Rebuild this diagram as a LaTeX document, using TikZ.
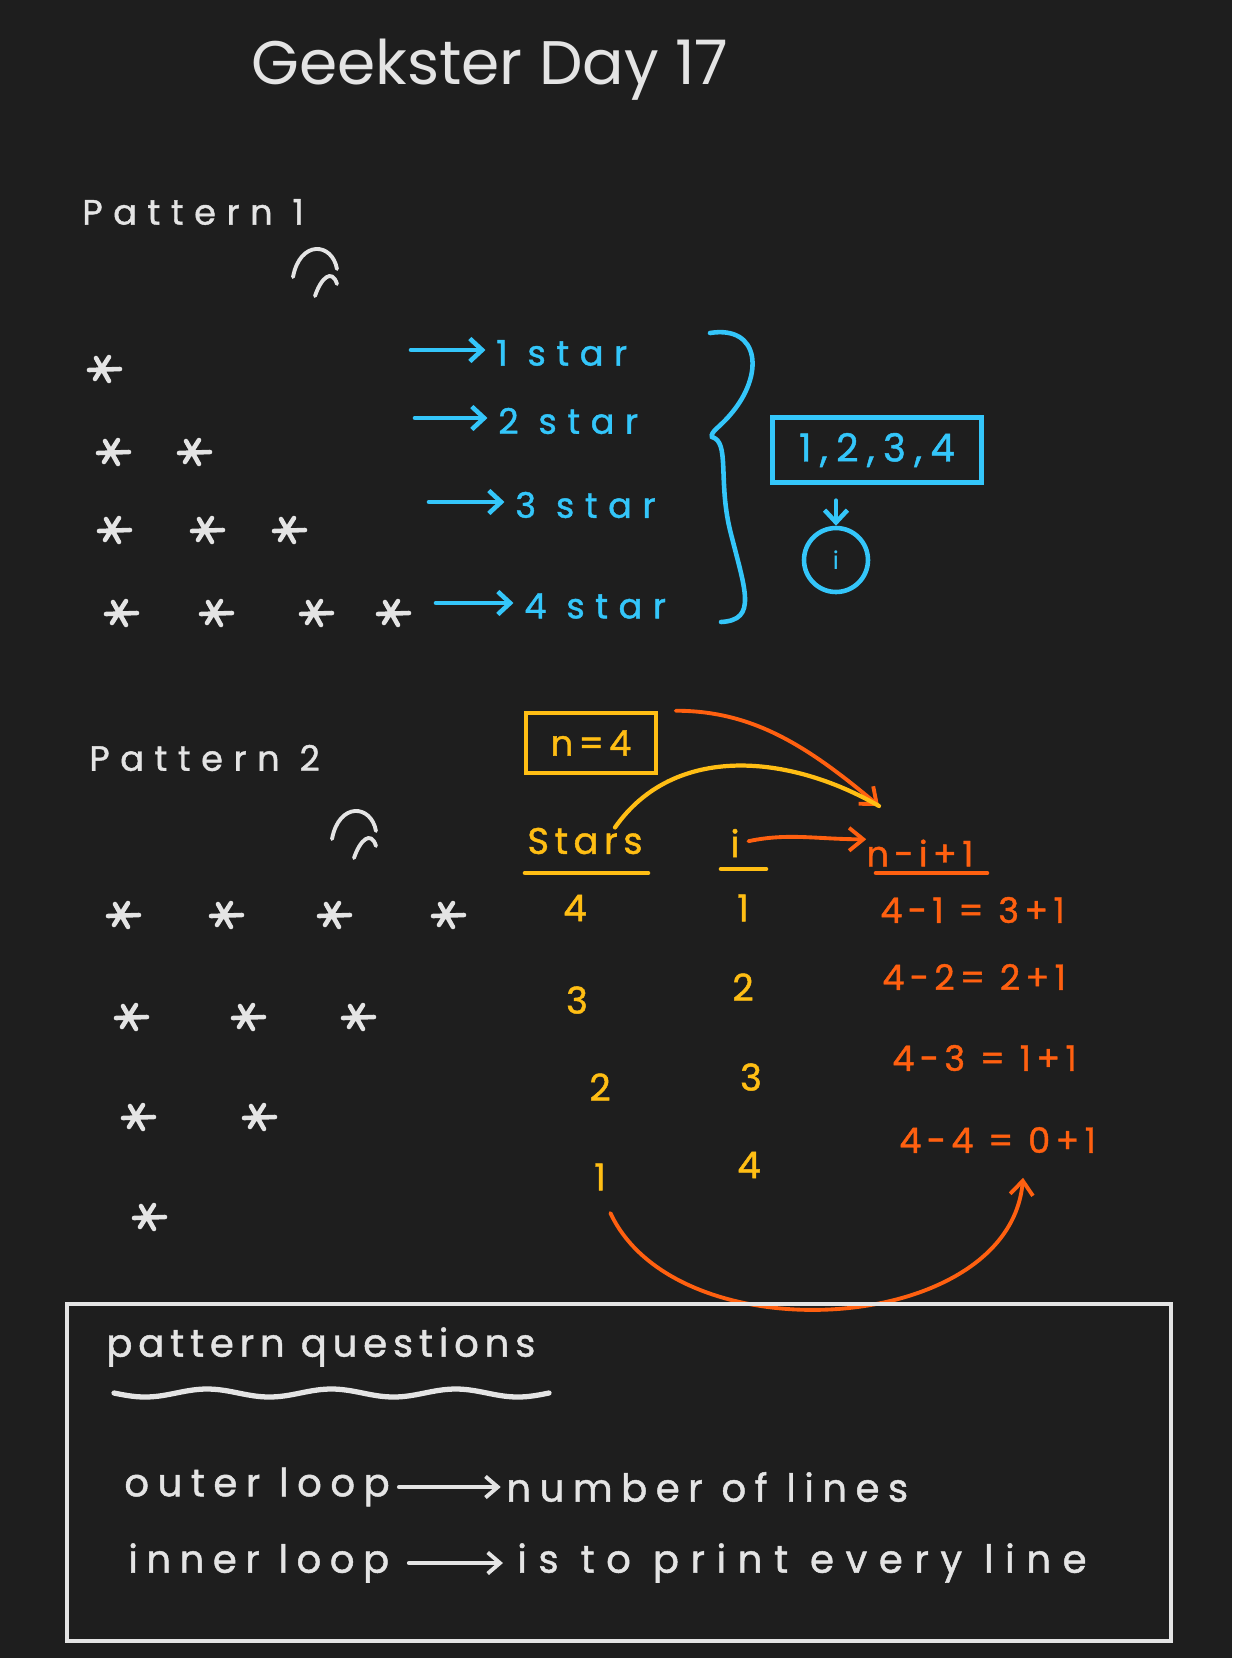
\documentclass[tikz,border=0pt]{standalone}
\usepackage{fontspec}
\setmainfont{Poppins}
\newfontfamily\handfont[LetterSpace=15, FakeBold=1.2]{Poppins}
\newfontfamily\widehand[LetterSpace=22, FakeBold=1.2]{Poppins}
\newfontfamily\widerhand[LetterSpace=30, FakeBold=1.2]{Poppins}
\usepackage{tikz}
\usetikzlibrary{positioning, arrows.meta}
\definecolor{boardbg}{RGB}{30,30,30}
\definecolor{chalk}  {RGB}{228,228,228}
\definecolor{skyblue}{RGB}{52,198,250}
\definecolor{amber}  {RGB}{255,190,20}
\definecolor{flame}  {RGB}{255,96,16}
\tikzset{
  % handwritten labels
  chalktext/.style={text=chalk, inner sep=0pt, font=\widerhand\fontsize{20}{24}\selectfont},
  notetext/.style={text=chalk, inner sep=0pt, font=\widehand\fontsize{22}{26}\selectfont},
  bluetext/.style={text=skyblue, inner sep=0pt, font=\widerhand\fontsize{20}{24}\selectfont},
  ambertext/.style={text=amber, inner sep=0pt, font=\handfont\fontsize{21}{25}\selectfont},
  flametext/.style={text=flame, inner sep=0pt, font=\handfont\fontsize{20}{24}\selectfont},
  % boxes
  bluebox/.style={draw=skyblue, line width=2.6pt, minimum width=4.18cm, minimum height=1.3cm,
    text=skyblue, font=\widehand\fontsize{22}{26}\selectfont},
  bluecirc/.style={circle, draw=skyblue, line width=2.6pt, minimum size=1.28cm,
    text=skyblue, font=\fontsize{14}{16}\selectfont},
  amberbox/.style={draw=amber, line width=2.6pt, minimum width=2.6cm, minimum height=1.2cm,
    text=amber, font=\handfont\fontsize{20}{24}\selectfont},
  % strokes and arrows
  chalkline/.style={draw=chalk, line width=2.2pt, line cap=round},
  bluearr/.style={-{Straight Barb[length=7pt, width=13pt]}, draw=skyblue, line width=2.6pt, line cap=round},
  flamearr/.style={-{Straight Barb[length=8pt, width=13pt]}, draw=flame, line width=2.2pt, line cap=round},
  chalkarr/.style={-{Straight Barb[length=7pt, width=12pt]}, chalkline},
  astmark/.pic={\draw[chalkline, line width=2.6pt] (-14,1) -- (17,0) (-7,-11) -- (6,12) (-8,10) -- (6,-12);},
  hatmark/.pic={\draw[chalkline] (-25,15) .. controls (-18,-22) and (14,-20) .. (19,7)
    (-3,34) .. controls (3,16) and (14,6) .. (19,22);},
}

\begin{document}
\begin{tikzpicture}[x=0.02cm, y=-0.02cm]
  \fill[boardbg] (0,0) rectangle (1232,1658);
  \useasboundingbox (0,0) rectangle (1232,1658);

  \node[text=chalk, font=\fontsize{35}{40}\selectfont] (title) at (490,70) {Geekster Day 17};

  % Pattern 1
  \node[chalktext, anchor=west] (pat1) at (82,212) {Pattern 1};
  \pic at (318,262) {hatmark};
  \foreach \sx/\sy in {103/369, 112/452, 193/452, 113/530, 206/530, 288/530,
                       120/613, 215/613, 315/613, 392/613}
    \pic at (\sx,\sy) {astmark};
  \foreach \k/\ax/\tx/\yy in {1/411/496/350, 2/415/498/418, 3/429/515/502, 4/436/524/603}{
    \coordinate (from\k) at (\ax,\yy);
    \node[bluetext, anchor=west] (lab\k) at (\tx,\yy+3) {\k\ star};
    \draw[bluearr, shorten >=6pt] (from\k) -- (lab\k.west |- from\k);
  }
  \draw[skyblue, line width=2.6pt, line cap=round]
    (710,333) .. controls (760,325) and (765,375) .. (730,415)
    .. controls (720,427) and (710,432) .. (712,437)
    .. controls (730,442) and (718,480) .. (730,530)
    .. controls (745,590) and (758,620) .. (721,622);
  \node[bluebox] (range) at (877,450) {1,2,3,4};
  \node[bluecirc] (ivar) at (836,560) {i};
  \draw[bluearr, shorten <=9pt] (range.south -| ivar) -- (ivar);

  % Pattern 2
  \node[chalktext, anchor=west] (pat2) at (89,758) {Pattern 2};
  \pic at (357,824) {hatmark};
  \foreach \sx/\sy in {122/915, 225/915, 333/915, 447/915, 130/1017, 247/1017,
                       357/1017, 137/1117, 258/1117, 148/1217}
    \pic at (\sx,\sy) {astmark};

  \node[amberbox] (nbox) at (591,743) {n=4};
  \node[ambertext] (starsH) at (585,841) {Stars};
  \node[ambertext] (iH) at (735,843) {i};
  \node[flametext] (nexpr) at (920,853) {n-i+1};
  \draw[amber, line width=2.6pt, line cap=round] (525,873) -- (648,873) (721,869) -- (766,869);
  \draw[flame, line width=2.6pt, line cap=round] (876,873) -- (987,873);
  \foreach \k/\sv/\sx/\sy/\iv/\ix/\iy in {1/4/575/908/1/743/908, 2/3/577/1000/2/743/987,
                                          3/2/600/1087/3/751/1077, 4/1/600/1177/4/749/1165}{
    \node[ambertext] (sv\k) at (\sx,\sy) {\sv};
    \node[ambertext] (iv\k) at (\ix,\iy) {\iv};
  }
  \foreach \k/\ex/\ey/\etext in {1/880/910/{4-1 = 3+1}, 2/882/977/{4-2= 2+1},
                                 3/892/1058/{4-3 = 1+1}, 4/899/1140/{4-4 = 0+1}}
    \node[flametext, anchor=west] (ex\k) at (\ex,\ey) {\etext};

  \coordinate (ntip) at (879,806);
  \draw[flamearr, shorten <=10pt] (nbox.north east) to[out=0, in=140] (ntip);
  \draw[amber, line width=2.4pt, line cap=round] ([xshift=0.6cm]starsH.north) to[out=55, in=150] (ntip);
  \draw[flamearr, shorten <=5pt] (iH.east) to[out=12, in=180] (nexpr.north west);
  \draw[flamearr, shorten <=14pt, shorten >=14pt, looseness=1.1]
    (sv4.south) to[out=-65, in=-95] ([xshift=0.55cm]ex4.south);

  % notes
  \draw[chalkline] (67,1304) rectangle (1171,1641);
  \node[text=chalk, inner sep=0pt, font=\handfont\fontsize{22}{26}\selectfont, anchor=west] (pq)
    at (106,1347) {pattern questions};
  \draw[chalkline, line width=3pt] plot[smooth, domain=114:549, samples=60]
    (\x, {1393 + 4*sin(2.897*(\x-114))});
  \node[notetext, anchor=west] (outer) at (124,1487) {outer loop};
  \node[notetext, anchor=west] (lines) at (506,1487) {number of lines};
  \draw[chalkarr, shorten <=5pt, shorten >=3pt] (outer) -- (lines);
  \node[notetext, anchor=west] (inner) at (128,1563) {inner loop};
  \node[notetext, font=\widerhand\fontsize{22}{26}\selectfont, anchor=west] (every)
    at (517,1563) {is to print every line};
  \draw[chalkarr, shorten <=11pt, shorten >=8pt] (inner) -- (every);
\end{tikzpicture}
\end{document}
